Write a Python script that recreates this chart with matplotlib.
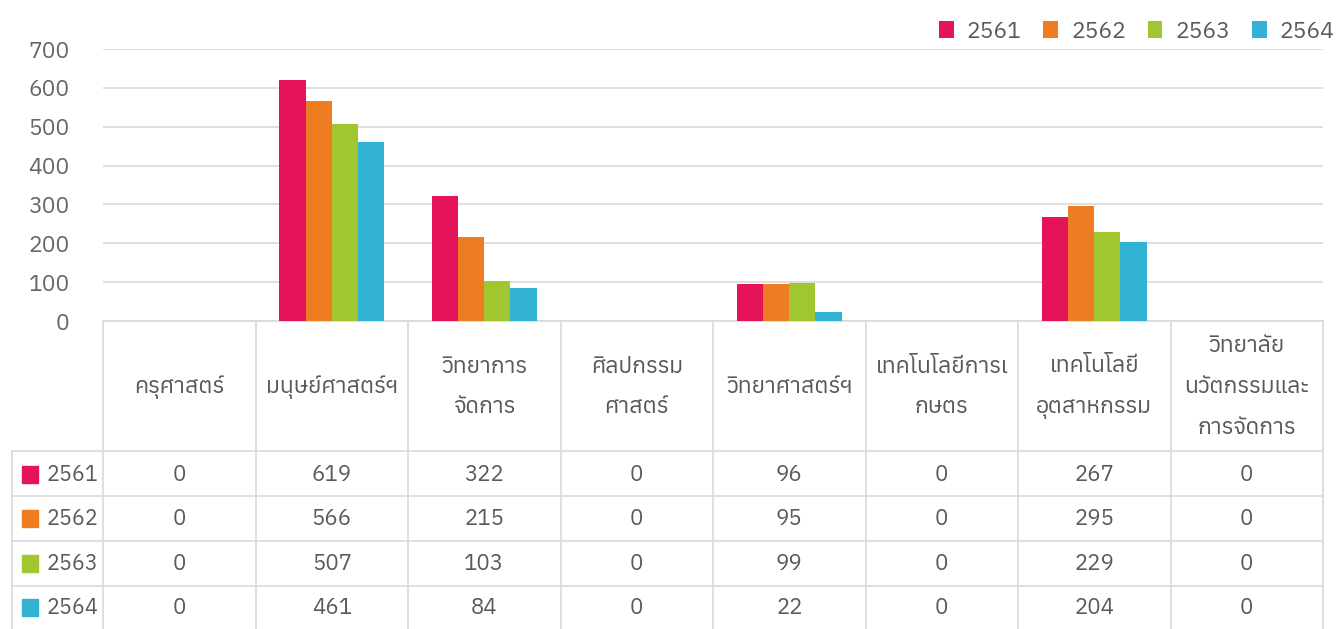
import matplotlib
matplotlib.use("Agg")
import matplotlib.pyplot as plt
from matplotlib.transforms import blended_transform_factory
from matplotlib.lines import Line2D

# data
faculties = ["ครุศาสตร์", "มนุษย์ศาสตร์ฯ", "วิทยาการ\nจัดการ", "ศิลปกรรม\nศาสตร์",
             "วิทยาศาสตร์ฯ", "เทคโนโลยีการเ\nกษตร", "เทคโนโลยี\nอุตสาหกรรม",
             "วิทยาลัย\nนวัตกรรมและ\nการจัดการ"]
years = ["2561", "2562", "2563", "2564"]
y2561 = [0, 619, 322, 0, 96, 0, 267, 0]
y2562 = [0, 566, 215, 0, 95, 0, 295, 0]
y2563 = [0, 507, 103, 0, 99, 0, 229, 0]
y2564 = [0, 461, 84, 0, 22, 0, 204, 0]
series = [y2561, y2562, y2563, y2564]
colors = ["#E5135A", "#EE7D22", "#A0C72F", "#33B3D3"]
y_ticks = [0, 100, 200, 300, 400, 500, 600, 700]

plt.rcParams["font.family"] = ["Anuphan", "DejaVu Sans"]

W, H = 1336, 629
GREY = "#d9d9d9"
TXT = "#595959"

fig = plt.figure(figsize=(W / 100, H / 100), dpi=100)
ax = fig.add_axes([103 / W, 1 - 321 / H, 1220 / W, 272 / H])

n = len(faculties)
bw = 0.172
for i, (vals, c, yr) in enumerate(zip(series, colors, years)):
    xs = [k + 0.5 + (i - 1.5) * bw for k in range(n)]
    ax.bar(xs, vals, width=bw, color=c, label=yr, zorder=3)

ax.set_xlim(0, n)
ax.set_ylim(0, 700)
ax.set_yticks(y_ticks)
ax.set_yticklabels([str(t) for t in y_ticks], fontsize=16.5, color="#666666")
ax.set_xticks([])
ax.tick_params(axis="y", length=0, pad=24)
ax.grid(axis="y", color=GREY, linewidth=1.2, zorder=0)
for s in ["top", "right", "left"]:
    ax.spines[s].set_visible(False)
ax.spines["bottom"].set_color(GREY)
ax.spines["bottom"].set_linewidth(1.2)

# table below the plot
def fy(py):
    return 1 - py / H

tr = blended_transform_factory(ax.transData, fig.transFigure)
row_lines = [451, 496, 541, 586]
for k in range(n + 1):
    fig.add_artist(Line2D([k, k], [fy(321), fy(H)], transform=tr, color=GREY, lw=1.2))
for py in row_lines:
    fig.add_artist(Line2D([12 / W, 1323 / W], [fy(py), fy(py)], transform=fig.transFigure,
                          color=GREY, lw=1.2))
fig.add_artist(Line2D([12 / W, 12 / W], [fy(451), fy(H)], transform=fig.transFigure,
                      color=GREY, lw=1.2))

for k, name in enumerate(faculties):
    ax.text(k + 0.5, fy(387), name, transform=tr, ha="center", va="center",
            fontsize=16.5, color=TXT, linespacing=2.1)

row_centers = [475, 519, 564, 608]
for vals, c, yr, py in zip(series, colors, years, row_centers):
    fig.patches.append(plt.Rectangle((22 / W, fy(py + 8)), 16 / W, 17 / H,
                                     transform=fig.transFigure, color=c))
    fig.text(47 / W, fy(py), yr, ha="left", va="center", fontsize=15.5, color=TXT)
    for k, v in enumerate(vals):
        ax.text(k + 0.5, fy(py), str(v), transform=tr, ha="center", va="center",
                fontsize=16, color=TXT)

fig.legend(loc="upper right", bbox_to_anchor=(1.014, 1.0), ncol=4, frameon=False,
           fontsize=16.5, labelcolor=TXT, handlelength=0.65, handleheight=0.8,
           handletextpad=0.55, columnspacing=0.95)

fig.savefig("out.png", dpi=100)
